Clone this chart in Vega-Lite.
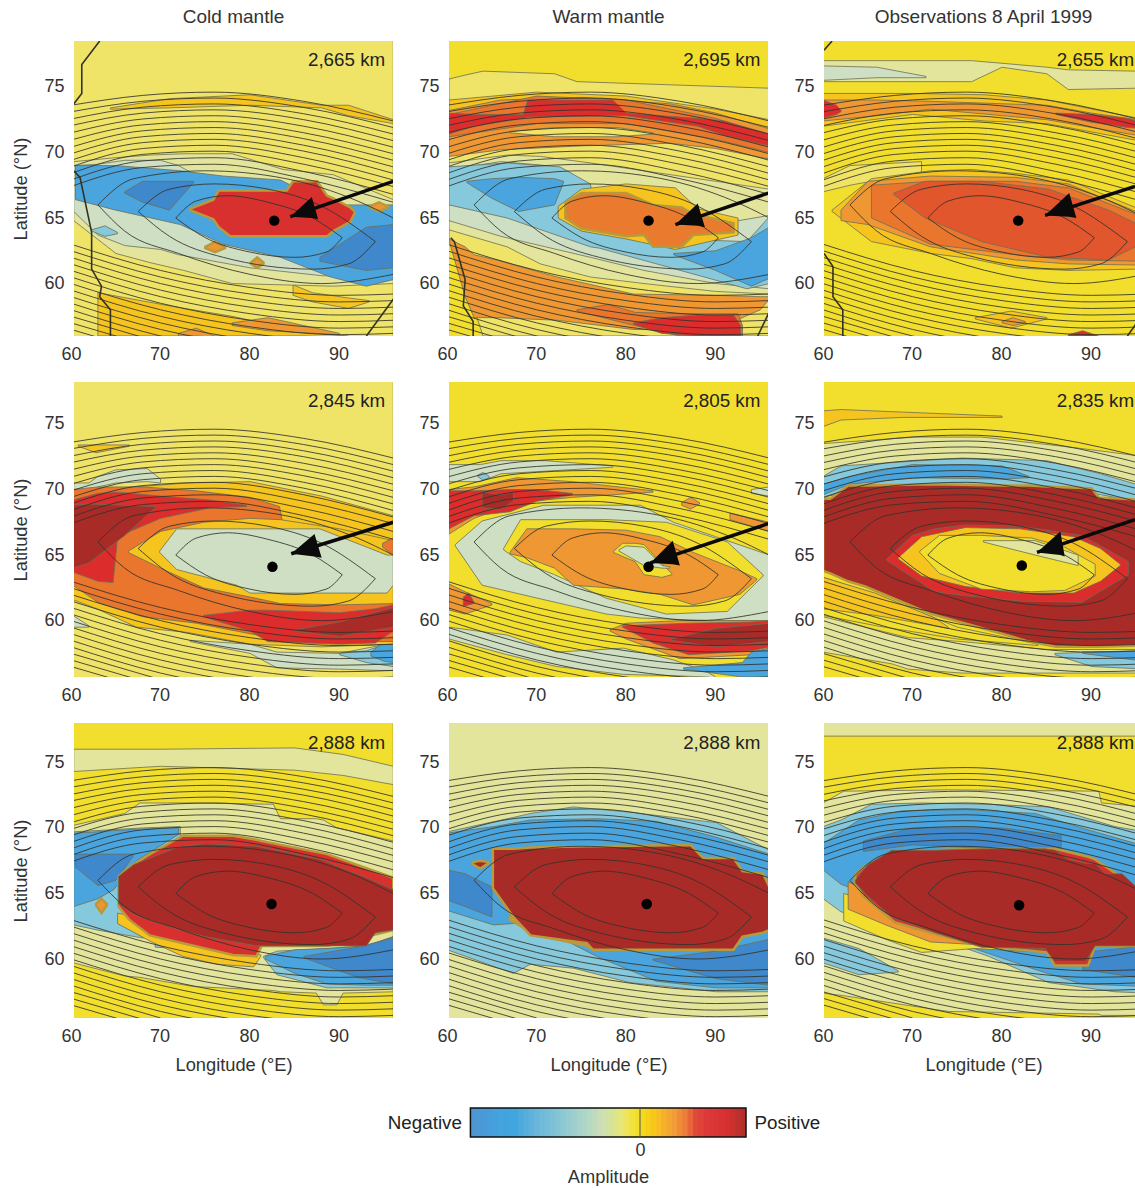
{"$schema":"https://vega.github.io/schema/vega-lite/v6.json","padding":{"left":11,"top":8,"right":0,"bottom":0},
"config":{"font":"Liberation Sans","view":{"stroke":null},"legend":{"disable":true},"axis":{"domain":false,"ticks":false,"grid":false,"labelFontSize":18,"titleFontSize":18.3,"titleFontWeight":"normal","labelColor":"#333","titleColor":"#333","labelBound":false,"labelFlush":false,"labelOverlap":false},"axisX":{"labelPadding":9,"titlePadding":11,"labelExpr":"''+round(datum.value/10)*10"},"axisY":{"labelPadding":10,"titlePadding":13},"title":{"fontSize":19,"fontWeight":"normal","color":"#333","offset":14},"text":{"fontSize":18.8,"color":"#222"}},
"datasets":{
"regions":[
{"r":101,"c":"f","x":60,"y":80,"b":50},{"r":101,"c":"f","x":96,"y":80,"b":50},
{"r":102,"c":"h","x":64.4,"y":73.4,"b":73.3},{"r":102,"c":"h","x":71,"y":74.1,"b":73.4},{"r":102,"c":"h","x":80,"y":74.4,"b":73.6},{"r":102,"c":"h","x":88,"y":73.6,"b":73.4},{"r":102,"c":"h","x":91,"y":73.6,"b":72.8},{"r":102,"c":"h","x":96,"y":72.5,"b":72.2},
{"r":103,"c":"h","x":63,"y":59.3,"b":56},{"r":103,"c":"h","x":71,"y":58.3,"b":56},{"r":103,"c":"h","x":78,"y":57.5,"b":56},{"r":103,"c":"h","x":86,"y":56.3,"b":56},{"r":103,"c":"h","x":91,"y":56,"b":55.9},
{"r":104,"c":"h","x":84.8,"y":59.9,"b":59.1},{"r":104,"c":"h","x":87,"y":59.3,"b":58.6},{"r":104,"c":"h","x":91,"y":58.9,"b":58.1},{"r":104,"c":"h","x":93.3,"y":58.7,"b":58.6},
{"r":105,"c":"i","x":78,"y":57,"b":56.8},{"r":105,"c":"i","x":82,"y":57.4,"b":56.4},{"r":105,"c":"i","x":90,"y":56.2,"b":56.1},
{"r":106,"c":"i","x":72,"y":56.2,"b":56},{"r":106,"c":"i","x":74,"y":56.6,"b":56},{"r":106,"c":"i","x":76,"y":56,"b":55.9},
{"r":107,"c":"e","x":60.3,"y":69.3,"b":64.8},{"r":107,"c":"e","x":65,"y":69.6,"b":62.3},{"r":107,"c":"e","x":68.8,"y":69.8,"b":61.6},{"r":107,"c":"e","x":72.6,"y":69.9,"b":61},{"r":107,"c":"e","x":78,"y":69.9,"b":60},{"r":107,"c":"e","x":83.7,"y":68.7,"b":59.9},{"r":107,"c":"e","x":89.3,"y":68.3,"b":59.8},{"r":107,"c":"e","x":96,"y":66.4,"b":60},
{"r":108,"c":"d","x":60.3,"y":69,"b":65.5},{"r":108,"c":"d","x":63,"y":69.1,"b":63.7},{"r":108,"c":"d","x":66,"y":69.4,"b":62.9},{"r":108,"c":"d","x":70,"y":69.4,"b":62.6},{"r":108,"c":"d","x":72,"y":69,"b":62.2},{"r":108,"c":"d","x":80,"y":66,"b":61.2},{"r":108,"c":"d","x":88,"y":64,"b":60.6},{"r":108,"c":"d","x":96,"y":65,"b":60.4},
{"r":109,"c":"c","x":62.3,"y":64.1,"b":64},{"r":109,"c":"c","x":63.8,"y":64.4,"b":63.6},{"r":109,"c":"c","x":65.2,"y":63.9,"b":63.8},
{"r":110,"c":"b","x":60.5,"y":69,"b":66.4},{"r":110,"c":"b","x":65,"y":69,"b":65.6},{"r":110,"c":"b","x":72.2,"y":68.6,"b":64.5},{"r":110,"c":"b","x":77,"y":68.2,"b":63},{"r":110,"c":"b","x":83.4,"y":67.9,"b":62},{"r":110,"c":"b","x":89,"y":66,"b":60.5},{"r":110,"c":"b","x":93,"y":66,"b":59.8},{"r":110,"c":"b","x":96,"y":66,"b":60.3},
{"r":111,"c":"a","x":66,"y":67,"b":66.9},{"r":111,"c":"a","x":68,"y":67.8,"b":66.2},{"r":111,"c":"a","x":71,"y":67.8,"b":65.6},{"r":111,"c":"a","x":73.7,"y":67.8,"b":67.7},
{"r":112,"c":"a","x":87.8,"y":62,"b":61.7},{"r":112,"c":"a","x":93,"y":64.3,"b":61},{"r":112,"c":"a","x":96,"y":64.5,"b":61.2},
{"r":113,"c":"I","x":75,"y":62.8,"b":62.7},{"r":113,"c":"I","x":76.1,"y":63.2,"b":62.4},{"r":113,"c":"I","x":77.2,"y":62.8,"b":62.7},
{"r":114,"c":"I","x":80.1,"y":61.6,"b":61.5},{"r":114,"c":"I","x":80.8,"y":62,"b":61.2},{"r":114,"c":"I","x":81.5,"y":61.6,"b":61.5},
{"r":115,"c":"I","x":93.4,"y":65.9,"b":65.8},{"r":115,"c":"I","x":94.4,"y":66.2,"b":65.5},{"r":115,"c":"I","x":95.4,"y":65.9,"b":65.8},
{"r":116,"c":"L","x":73.3,"y":65.7,"b":65.6},{"r":116,"c":"L","x":75.9,"y":66.4,"b":64.9},{"r":116,"c":"L","x":76.5,"y":67.1,"b":64.3},{"r":116,"c":"L","x":77.8,"y":67.1,"b":63.6},{"r":116,"c":"L","x":84.1,"y":67.1,"b":63.6},{"r":116,"c":"L","x":84.8,"y":67.8,"b":63.6},{"r":116,"c":"L","x":87.5,"y":67.8,"b":63.6},{"r":116,"c":"L","x":88.6,"y":66.7,"b":63.6},{"r":116,"c":"L","x":89.3,"y":66.5,"b":64},{"r":116,"c":"L","x":91.2,"y":65.8,"b":64.7},{"r":116,"c":"L","x":91.7,"y":65.5,"b":65.4},
{"r":201,"c":"g","x":60,"y":80,"b":50},{"r":201,"c":"g","x":96,"y":80,"b":50},
{"r":202,"c":"f","x":60.2,"y":75.6,"b":63.5},{"r":202,"c":"f","x":62,"y":75.9,"b":60.2},{"r":202,"c":"f","x":64,"y":76.2,"b":56},{"r":202,"c":"f","x":72,"y":76,"b":56},{"r":202,"c":"f","x":74.5,"y":75.4,"b":56},{"r":202,"c":"f","x":96,"y":74.9,"b":56},
{"r":203,"c":"h","x":60.2,"y":74,"b":71},{"r":203,"c":"h","x":70,"y":74.6,"b":71.5},{"r":203,"c":"h","x":80,"y":74.3,"b":71.5},{"r":203,"c":"h","x":90,"y":73.3,"b":70.5},{"r":203,"c":"h","x":96,"y":72.5,"b":69.5},
{"r":204,"c":"i","x":60.2,"y":73.2,"b":69.7},{"r":204,"c":"i","x":66,"y":74,"b":70.2},{"r":204,"c":"i","x":75,"y":74.2,"b":70.5},{"r":204,"c":"i","x":85,"y":73.7,"b":70.7},{"r":204,"c":"i","x":90,"y":73,"b":70.3},{"r":204,"c":"i","x":96,"y":71.8,"b":69.5},
{"r":205,"c":"f","x":67,"y":71.6,"b":71.5},{"r":205,"c":"f","x":72,"y":71.9,"b":71.2},{"r":205,"c":"f","x":79,"y":71.9,"b":71.2},{"r":205,"c":"f","x":83,"y":71.5,"b":71.4},
{"r":206,"c":"j","x":60.2,"y":72.9,"b":71.2},{"r":206,"c":"j","x":70,"y":74.3,"b":72.2},{"r":206,"c":"j","x":80,"y":74,"b":72.2},{"r":206,"c":"j","x":90,"y":72.6,"b":71},{"r":206,"c":"j","x":96,"y":71.2,"b":70},
{"r":207,"c":"l","x":60.2,"y":73,"b":71.4},{"r":207,"c":"l","x":63,"y":72.9,"b":72},{"r":207,"c":"l","x":68.5,"y":72.9,"b":72.6},{"r":207,"c":"l","x":69,"y":74,"b":72.7},{"r":207,"c":"l","x":78.5,"y":74,"b":72.8},{"r":207,"c":"l","x":80,"y":73,"b":72.8},{"r":207,"c":"l","x":88,"y":72.6,"b":72},{"r":207,"c":"l","x":91,"y":72.4,"b":71.3},{"r":207,"c":"l","x":96,"y":71.4,"b":70.5},
{"r":208,"c":"i","x":60.2,"y":63.4,"b":63.3},{"r":208,"c":"i","x":62,"y":62.8,"b":59},{"r":208,"c":"i","x":63,"y":62.2,"b":57.4},{"r":208,"c":"i","x":65.5,"y":61.8,"b":57.4},{"r":208,"c":"i","x":72.3,"y":60.5,"b":57.2},{"r":208,"c":"i","x":80.8,"y":59.2,"b":56.5},{"r":208,"c":"i","x":90,"y":59.1,"b":56.5},{"r":208,"c":"i","x":95,"y":59,"b":58},{"r":208,"c":"i","x":96,"y":59,"b":58.8},
{"r":209,"c":"j","x":74.5,"y":58,"b":57.9},{"r":209,"c":"j","x":78,"y":58.4,"b":57.3},{"r":209,"c":"j","x":81,"y":57.8,"b":56.8},{"r":209,"c":"j","x":86,"y":57.7,"b":56},{"r":209,"c":"j","x":92.5,"y":57.7,"b":56},{"r":209,"c":"j","x":93,"y":56.8,"b":56},
{"r":210,"c":"l","x":80.8,"y":57,"b":56.9},{"r":210,"c":"l","x":84,"y":57.4,"b":56.2},{"r":210,"c":"l","x":88,"y":57.6,"b":56},{"r":210,"c":"l","x":92,"y":57.6,"b":56},{"r":210,"c":"l","x":92.8,"y":56.8,"b":56},
{"r":211,"c":"e","x":60.2,"y":69.2,"b":64.1},{"r":211,"c":"e","x":66.7,"y":69.8,"b":62.8},{"r":211,"c":"e","x":70.4,"y":69.7,"b":61.5},{"r":211,"c":"e","x":76,"y":69.2,"b":60.5},{"r":211,"c":"e","x":82,"y":68.6,"b":60},{"r":211,"c":"e","x":90,"y":67.8,"b":59.4},{"r":211,"c":"e","x":96,"y":67.2,"b":59.2},
{"r":212,"c":"d","x":60.2,"y":68.7,"b":64.8},{"r":212,"c":"d","x":66,"y":69.3,"b":63.6},{"r":212,"c":"d","x":71,"y":69,"b":62.8},{"r":212,"c":"d","x":76,"y":66,"b":62},{"r":212,"c":"d","x":82,"y":64.5,"b":61},{"r":212,"c":"d","x":90,"y":64.5,"b":60},{"r":212,"c":"d","x":96,"y":65.2,"b":59.6},
{"r":213,"c":"c","x":60.2,"y":68.9,"b":66},{"r":213,"c":"c","x":66.7,"y":69.2,"b":65},{"r":213,"c":"c","x":72.6,"y":68.9,"b":63.6},{"r":213,"c":"c","x":76,"y":67.6,"b":62.8},{"r":213,"c":"c","x":77,"y":64,"b":62.7},{"r":213,"c":"c","x":85,"y":63.4,"b":61.2},{"r":213,"c":"c","x":93.5,"y":63.2,"b":59.6},{"r":213,"c":"c","x":96,"y":65.1,"b":60},
{"r":214,"c":"b","x":62.2,"y":67.8,"b":67.7},{"r":214,"c":"b","x":65,"y":68,"b":66.5},{"r":214,"c":"b","x":68,"y":68.1,"b":65.5},{"r":214,"c":"b","x":72,"y":68,"b":66},{"r":214,"c":"b","x":73,"y":67.8,"b":67.7},
{"r":215,"c":"b","x":85.3,"y":62.3,"b":62.2},{"r":215,"c":"b","x":90,"y":62.5,"b":61},{"r":215,"c":"b","x":94,"y":63.5,"b":59.8},{"r":215,"c":"b","x":96,"y":64.3,"b":60.4},
{"r":216,"c":"h","x":72.4,"y":65.9,"b":65},{"r":216,"c":"h","x":75,"y":67.2,"b":64},{"r":216,"c":"h","x":80,"y":67.6,"b":63.4},{"r":216,"c":"h","x":85.5,"y":67.3,"b":62.6},{"r":216,"c":"h","x":88,"y":65.7,"b":63},{"r":216,"c":"h","x":92.5,"y":65,"b":63.7},
{"r":217,"c":"J","x":73.2,"y":66.2,"b":65},{"r":217,"c":"J","x":75,"y":66.9,"b":64.2},{"r":217,"c":"J","x":80,"y":66.9,"b":63.6},{"r":217,"c":"J","x":82,"y":66.3,"b":63.7},{"r":217,"c":"J","x":83,"y":66,"b":62.8},{"r":217,"c":"J","x":86.2,"y":65.8,"b":62.8},{"r":217,"c":"J","x":87.5,"y":65.3,"b":63.7},{"r":217,"c":"J","x":92,"y":64.6,"b":63.9},
{"r":301,"c":"g","x":60,"y":80,"b":50},{"r":301,"c":"g","x":96,"y":80,"b":50},
{"r":302,"c":"e","x":60,"y":77,"b":75.4},{"r":302,"c":"e","x":76.6,"y":77,"b":75.4},{"r":302,"c":"e","x":80,"y":76.8,"b":76.5},{"r":302,"c":"e","x":85,"y":76.5,"b":76},{"r":302,"c":"e","x":87.4,"y":76.3,"b":74.8},{"r":302,"c":"e","x":95,"y":76.2,"b":74.9},
{"r":303,"c":"d","x":60,"y":76.6,"b":75.5},{"r":303,"c":"d","x":66,"y":76.5,"b":75.7},{"r":303,"c":"d","x":71.5,"y":75.8,"b":75.7},
{"r":305,"c":"h","x":60,"y":74.5,"b":72},{"r":305,"c":"h","x":70,"y":74.5,"b":72.9},{"r":305,"c":"h","x":78,"y":74.4,"b":72.4},{"r":305,"c":"h","x":85,"y":74,"b":72.2},{"r":305,"c":"h","x":96,"y":72.5,"b":70.8},
{"r":306,"c":"i","x":60,"y":74,"b":72.4},{"r":306,"c":"i","x":66,"y":74,"b":72.8},{"r":306,"c":"i","x":72,"y":73.9,"b":73.3},{"r":306,"c":"i","x":85,"y":73.6,"b":72.5},{"r":306,"c":"i","x":90,"y":73,"b":71.9},{"r":306,"c":"i","x":96,"y":72.4,"b":71.2},
{"r":307,"c":"l","x":60,"y":74,"b":72.6},{"r":307,"c":"l","x":61.5,"y":73.6,"b":72.9},{"r":307,"c":"l","x":62,"y":73.2,"b":73.1},
{"r":308,"c":"l","x":86,"y":73,"b":72.9},{"r":308,"c":"l","x":90,"y":72.9,"b":72.3},{"r":308,"c":"l","x":94,"y":72.6,"b":71.9},{"r":308,"c":"l","x":96,"y":72.2,"b":71.8},
{"r":309,"c":"f","x":60,"y":68,"b":67},{"r":309,"c":"f","x":63,"y":69,"b":67.5},{"r":309,"c":"f","x":71,"y":69.3,"b":68.5},
{"r":310,"c":"h","x":61,"y":65.6,"b":65.5},{"r":310,"c":"h","x":65.4,"y":68,"b":63.2},{"r":310,"c":"h","x":72,"y":68.6,"b":62.3},{"r":310,"c":"h","x":76.6,"y":68.7,"b":61.9},{"r":310,"c":"h","x":81.5,"y":68.4,"b":61.2},{"r":310,"c":"h","x":87.4,"y":67.9,"b":61},{"r":310,"c":"h","x":94.9,"y":65.8,"b":61.1},{"r":310,"c":"h","x":96,"y":65.2,"b":61.2},
{"r":311,"c":"i","x":62,"y":65.6,"b":64.8},{"r":311,"c":"i","x":65,"y":67.8,"b":64.5},{"r":311,"c":"i","x":72,"y":68.2,"b":62.8},{"r":311,"c":"i","x":81.5,"y":68.1,"b":61.8},{"r":311,"c":"i","x":87.4,"y":67.6,"b":61.5},{"r":311,"c":"i","x":96,"y":65.2,"b":61.4},
{"r":312,"c":"j","x":65.4,"y":67.5,"b":65},{"r":312,"c":"j","x":72,"y":67.8,"b":63},{"r":312,"c":"j","x":81.5,"y":67.8,"b":62.2},{"r":312,"c":"j","x":87.4,"y":67.3,"b":61.8},{"r":312,"c":"j","x":96,"y":65,"b":61.7},
{"r":313,"c":"k","x":67.9,"y":66.9,"b":66.8},{"r":313,"c":"k","x":71.4,"y":67.8,"b":65},{"r":313,"c":"k","x":77.7,"y":67.8,"b":63.2},{"r":313,"c":"k","x":85.2,"y":67.2,"b":62},{"r":313,"c":"k","x":91.9,"y":65.6,"b":61.8},{"r":313,"c":"k","x":94.9,"y":64.6,"b":62.8},{"r":313,"c":"k","x":96,"y":64,"b":63},
{"r":314,"c":"h","x":77,"y":57.4,"b":57.3},{"r":314,"c":"h","x":81,"y":57.9,"b":56.6},{"r":314,"c":"h","x":85,"y":57.4,"b":57.3},
{"r":315,"c":"i","x":80,"y":57.1,"b":57},{"r":315,"c":"i","x":81.2,"y":57.4,"b":56.8},{"r":315,"c":"i","x":82.6,"y":57.1,"b":57},
{"r":316,"c":"l","x":87.4,"y":56.1,"b":56},{"r":316,"c":"l","x":89,"y":56.4,"b":56},{"r":316,"c":"l","x":90.8,"y":56,"b":55.9},
{"r":401,"c":"f","x":60,"y":80,"b":50},{"r":401,"c":"f","x":96,"y":80,"b":50},
{"r":402,"c":"h","x":60.8,"y":73.4,"b":73.3},{"r":402,"c":"h","x":62.8,"y":73.4,"b":72.8},{"r":402,"c":"h","x":66.5,"y":73.4,"b":73.3},
{"r":403,"c":"d","x":60.3,"y":70.5,"b":69.5},{"r":403,"c":"d","x":62,"y":70.5,"b":69.7},{"r":403,"c":"d","x":63,"y":71,"b":70.2},{"r":403,"c":"d","x":65,"y":71.5,"b":70.5},{"r":403,"c":"d","x":68.5,"y":71.6,"b":70.6},{"r":403,"c":"d","x":70,"y":70.8,"b":70.5},
{"r":413,"c":"d","x":60.2,"y":60.4,"b":59.5},{"r":413,"c":"d","x":62,"y":59.6,"b":59.5},
{"r":410,"c":"d","x":73.3,"y":58.5,"b":58.4},{"r":410,"c":"d","x":80,"y":58.2,"b":57.5},{"r":410,"c":"d","x":83,"y":57.6,"b":56.4},{"r":410,"c":"d","x":90,"y":57.5,"b":56.3},{"r":410,"c":"d","x":94.5,"y":58.1,"b":56.2},{"r":410,"c":"d","x":96,"y":58.5,"b":56.2},
{"r":411,"c":"c","x":90,"y":57.5,"b":57.4},{"r":411,"c":"c","x":93,"y":57.7,"b":56.8},{"r":411,"c":"c","x":96,"y":58.4,"b":56.5},
{"r":412,"c":"b","x":93.5,"y":57.6,"b":57.3},{"r":412,"c":"b","x":95,"y":58.4,"b":56.9},{"r":412,"c":"b","x":96,"y":58.6,"b":56.8},
{"r":404,"c":"h","x":60.2,"y":70,"b":61.6},{"r":404,"c":"h","x":62.9,"y":70,"b":60.9},{"r":404,"c":"h","x":67.3,"y":70.2,"b":59.5},{"r":404,"c":"h","x":73,"y":70.5,"b":59.1},{"r":404,"c":"h","x":80,"y":70.6,"b":58.2},{"r":404,"c":"h","x":88,"y":69.5,"b":58},{"r":404,"c":"h","x":96,"y":68,"b":58.2},
{"r":405,"c":"j","x":60.2,"y":70,"b":62.7},{"r":405,"c":"j","x":63,"y":70.2,"b":61.4},{"r":405,"c":"j","x":68,"y":70.2,"b":60.3},{"r":405,"c":"j","x":74,"y":69.9,"b":59.8},{"r":405,"c":"j","x":80,"y":69.4,"b":59},{"r":405,"c":"j","x":83.3,"y":68.7,"b":58.6},{"r":405,"c":"j","x":84,"y":66,"b":58.4},{"r":405,"c":"j","x":96,"y":61.9,"b":58.4},
{"r":406,"c":"l","x":60.2,"y":69.2,"b":63.7},{"r":406,"c":"l","x":63,"y":69.7,"b":63},{"r":406,"c":"l","x":64.7,"y":69.8,"b":62.9},{"r":406,"c":"l","x":65.2,"y":69.8,"b":66.4},{"r":406,"c":"l","x":70,"y":69.5,"b":67.8},{"r":406,"c":"l","x":75.5,"y":69.2,"b":68.6},{"r":406,"c":"l","x":79.6,"y":68.8,"b":68.7},
{"r":407,"c":"m","x":60.2,"y":68.8,"b":64},{"r":407,"c":"m","x":62,"y":68.9,"b":64.4},{"r":407,"c":"m","x":66,"y":68.8,"b":66.5},{"r":407,"c":"m","x":69.4,"y":68.7,"b":68.6},
{"r":408,"c":"l","x":74.8,"y":60.4,"b":60.3},{"r":408,"c":"l","x":80,"y":60.8,"b":59.2},{"r":408,"c":"l","x":82,"y":60.8,"b":58.4},{"r":408,"c":"l","x":90,"y":60.6,"b":58.2},{"r":408,"c":"l","x":94,"y":60.9,"b":58.3},{"r":408,"c":"l","x":96,"y":61.2,"b":59.2},
{"r":409,"c":"m","x":85,"y":59.3,"b":59.2},{"r":409,"c":"m","x":90,"y":59.9,"b":58.8},{"r":409,"c":"m","x":96,"y":61,"b":59.5},
{"r":414,"c":"h","x":66.4,"y":65.3,"b":65.2},{"r":414,"c":"h","x":70,"y":66.8,"b":64},{"r":414,"c":"h","x":74.8,"y":67.5,"b":62.5},{"r":414,"c":"h","x":80,"y":67.8,"b":61.8},{"r":414,"c":"h","x":83.4,"y":67.7,"b":61.3},{"r":414,"c":"h","x":90,"y":67,"b":61.2},{"r":414,"c":"h","x":96,"y":66.1,"b":61.3},
{"r":415,"c":"j","x":94.8,"y":65.9,"b":65.6},{"r":415,"c":"j","x":96,"y":66.3,"b":65},
{"r":416,"c":"d","x":69.9,"y":65.3,"b":65.2},{"r":416,"c":"d","x":71.8,"y":67,"b":63.9},{"r":416,"c":"d","x":78.5,"y":67,"b":62.7},{"r":416,"c":"d","x":80,"y":67,"b":62.1},{"r":416,"c":"d","x":87.8,"y":67,"b":62.1},{"r":416,"c":"d","x":92.3,"y":65.8,"b":62.1},{"r":416,"c":"d","x":95.3,"y":65,"b":62.1},{"r":416,"c":"d","x":96,"y":65,"b":62.7},
{"r":501,"c":"g","x":60,"y":80,"b":50},{"r":501,"c":"g","x":96,"y":80,"b":50},
{"r":502,"c":"d","x":60.2,"y":71.9,"b":70.6},{"r":502,"c":"d","x":63.7,"y":71.9,"b":70.6},{"r":502,"c":"d","x":66,"y":72.2,"b":71.2},{"r":502,"c":"d","x":71,"y":72.2,"b":71.4},{"r":502,"c":"d","x":78.5,"y":71.8,"b":71.7},
{"r":521,"c":"c","x":63.4,"y":71.1,"b":71},{"r":521,"c":"c","x":64,"y":71.3,"b":70.7},{"r":521,"c":"c","x":64.7,"y":71,"b":70.9},
{"r":503,"c":"i","x":60.2,"y":70,"b":66.6},{"r":503,"c":"i","x":63,"y":70.2,"b":67.8},{"r":503,"c":"i","x":67.8,"y":70.9,"b":69},{"r":503,"c":"i","x":74,"y":70.6,"b":69.4},{"r":503,"c":"i","x":83,"y":69.9,"b":69.8},
{"r":504,"c":"l","x":60.2,"y":69.9,"b":67},{"r":504,"c":"l","x":63,"y":69.9,"b":68},{"r":504,"c":"l","x":67,"y":70,"b":68.3},{"r":504,"c":"l","x":70,"y":70,"b":69.1},{"r":504,"c":"l","x":74,"y":69.7,"b":69.6},
{"r":505,"c":"m","x":63.9,"y":69.8,"b":68.6},{"r":505,"c":"m","x":66,"y":69.6,"b":68.5},{"r":505,"c":"m","x":67.4,"y":69.8,"b":69.1},
{"r":506,"c":"d","x":60.9,"y":65.8,"b":65.7},{"r":506,"c":"d","x":63.9,"y":67.6,"b":62.7},{"r":506,"c":"d","x":70.8,"y":68.8,"b":61.6},{"r":506,"c":"d","x":77.8,"y":68.8,"b":60.5},{"r":506,"c":"d","x":81.6,"y":68.8,"b":60.2},{"r":506,"c":"d","x":85.3,"y":67.5,"b":60.1},{"r":506,"c":"d","x":90,"y":66.4,"b":60},{"r":506,"c":"d","x":96,"y":65,"b":60},
{"r":507,"c":"g","x":66.3,"y":65.5,"b":65.4},{"r":507,"c":"g","x":68.2,"y":67.7,"b":64.5},{"r":507,"c":"g","x":72,"y":67.7,"b":63.5},{"r":507,"c":"g","x":77.8,"y":67.7,"b":61.7},{"r":507,"c":"g","x":84.5,"y":67.5,"b":60.5},{"r":507,"c":"g","x":91.3,"y":66,"b":60.7},{"r":507,"c":"g","x":95.3,"y":63.5,"b":63.4},
{"r":508,"c":"i","x":67,"y":65.2,"b":65.1},{"r":508,"c":"i","x":68.9,"y":67,"b":64.8},{"r":508,"c":"i","x":72,"y":67,"b":64},{"r":508,"c":"i","x":74.1,"y":67,"b":62.7},{"r":508,"c":"i","x":80,"y":66.9,"b":62.4},{"r":508,"c":"i","x":83.8,"y":66.4,"b":62},{"r":508,"c":"i","x":87.5,"y":65.2,"b":61.2},{"r":508,"c":"i","x":92.7,"y":63.8,"b":62},{"r":508,"c":"i","x":94.6,"y":63.2,"b":63.1},
{"r":509,"c":"g","x":78.6,"y":65.3,"b":65.2},{"r":509,"c":"g","x":79.6,"y":65.9,"b":64.9},{"r":509,"c":"g","x":81,"y":65.9,"b":64.5},{"r":509,"c":"g","x":82,"y":65.8,"b":63.5},{"r":509,"c":"g","x":84,"y":64.3,"b":63.3},{"r":509,"c":"g","x":85.1,"y":63.6,"b":63.5},
{"r":510,"c":"d","x":79.2,"y":65.4,"b":65.3},{"r":510,"c":"d","x":80,"y":65.7,"b":65},{"r":510,"c":"d","x":82,"y":65.6,"b":64.2},{"r":510,"c":"d","x":84,"y":64.2,"b":64},{"r":510,"c":"d","x":84.9,"y":64.1,"b":64},
{"r":511,"c":"i","x":60.2,"y":62.8,"b":60.8},{"r":511,"c":"i","x":62,"y":62.2,"b":60.5},{"r":511,"c":"i","x":65,"y":61.3,"b":61.2},
{"r":512,"c":"l","x":61.8,"y":61.8,"b":61.1},{"r":512,"c":"l","x":62.4,"y":62.1,"b":61.2},{"r":512,"c":"l","x":63,"y":61.4,"b":61.3},
{"r":513,"c":"i","x":91.6,"y":68.2,"b":67.7},{"r":513,"c":"i","x":96,"y":67.5,"b":66.8},
{"r":514,"c":"i","x":86.2,"y":69,"b":68.8},{"r":514,"c":"i","x":87.2,"y":69.4,"b":68.5},{"r":514,"c":"i","x":88.2,"y":69,"b":68.9},
{"r":515,"c":"d","x":94,"y":70,"b":69.7},{"r":515,"c":"d","x":96,"y":70.2,"b":69.5},
{"r":516,"c":"d","x":60.2,"y":59.5,"b":58.6},{"r":516,"c":"d","x":66.7,"y":58.9,"b":57.4},{"r":516,"c":"d","x":72.2,"y":57.6,"b":56.5},{"r":516,"c":"d","x":79.7,"y":57.9,"b":55.9},{"r":516,"c":"d","x":85.3,"y":57,"b":55.8},{"r":516,"c":"d","x":89,"y":56.1,"b":55.7},{"r":516,"c":"d","x":90,"y":55.7,"b":55.6},
{"r":517,"c":"i","x":78.2,"y":59.3,"b":59.2},{"r":517,"c":"i","x":80,"y":59.8,"b":58.6},{"r":517,"c":"i","x":86,"y":60,"b":57.1},{"r":517,"c":"i","x":94.2,"y":60,"b":57.4},{"r":517,"c":"i","x":96,"y":60,"b":57.8},
{"r":518,"c":"l","x":79.6,"y":59.6,"b":59.5},{"r":518,"c":"l","x":83,"y":59.7,"b":58.3},{"r":518,"c":"l","x":87,"y":59.8,"b":57.4},{"r":518,"c":"l","x":94,"y":59.9,"b":57.7},{"r":518,"c":"l","x":96,"y":60,"b":58},
{"r":519,"c":"m","x":85,"y":58.6,"b":58.5},{"r":519,"c":"m","x":90,"y":59.4,"b":58},{"r":519,"c":"m","x":96,"y":59.8,"b":58.4},
{"r":520,"c":"b","x":86.4,"y":56.4,"b":56.3},{"r":520,"c":"b","x":93,"y":56.8,"b":55.7},{"r":520,"c":"b","x":94,"y":57.6,"b":55.7},{"r":520,"c":"b","x":96,"y":57.9,"b":55.7},
{"r":601,"c":"g","x":60,"y":80,"b":50},{"r":601,"c":"g","x":96,"y":80,"b":50},
{"r":602,"c":"h","x":60,"y":76,"b":74.8},{"r":602,"c":"h","x":62,"y":76.1,"b":75.3},{"r":602,"c":"h","x":69,"y":75.9,"b":75.5},{"r":602,"c":"h","x":80,"y":75.6,"b":75.5},
{"r":603,"c":"e","x":60,"y":73.5,"b":69.5},{"r":603,"c":"e","x":70.3,"y":74,"b":70},{"r":603,"c":"e","x":77.7,"y":74,"b":70},{"r":603,"c":"e","x":88,"y":73.2,"b":69.5},{"r":603,"c":"e","x":96,"y":72.5,"b":68.6},
{"r":604,"c":"c","x":60,"y":71,"b":69.3},{"r":604,"c":"c","x":62,"y":71.8,"b":69.9},{"r":604,"c":"c","x":75.5,"y":72.4,"b":70.1},{"r":604,"c":"c","x":85,"y":72.2,"b":70},{"r":604,"c":"c","x":91,"y":71.2,"b":69.6},{"r":604,"c":"c","x":96,"y":70.2,"b":69},
{"r":605,"c":"b","x":60,"y":70.4,"b":69.6},{"r":605,"c":"b","x":63,"y":71,"b":70.4},{"r":605,"c":"b","x":70,"y":71.9,"b":70.9},{"r":605,"c":"b","x":80,"y":71.8,"b":70.8},{"r":605,"c":"b","x":83,"y":71,"b":70.9},
{"r":613,"c":"e","x":60,"y":60.3,"b":57.6},{"r":613,"c":"e","x":67.7,"y":59,"b":56.7},{"r":613,"c":"e","x":69.5,"y":58.7,"b":56.3},{"r":613,"c":"e","x":75.5,"y":58.4,"b":56},{"r":613,"c":"e","x":85,"y":57.8,"b":56},{"r":613,"c":"e","x":96,"y":57.8,"b":56},
{"r":612,"c":"g","x":60,"y":63.3,"b":60.4},{"r":612,"c":"g","x":66,"y":62,"b":59.6},{"r":612,"c":"g","x":75,"y":59.5,"b":58.6},{"r":612,"c":"g","x":84,"y":58.2,"b":58.1},
{"r":614,"c":"h","x":60,"y":63.3,"b":60.9},{"r":614,"c":"h","x":65.8,"y":62.1,"b":60.4},{"r":614,"c":"h","x":72.5,"y":60.2,"b":59.6},{"r":614,"c":"h","x":74,"y":59.5,"b":59.4},
{"r":615,"c":"c","x":85.9,"y":57.5,"b":57.4},{"r":615,"c":"c","x":90,"y":57.6,"b":56.5},{"r":615,"c":"c","x":96,"y":57.7,"b":56.3},
{"r":616,"c":"b","x":89,"y":57.6,"b":57.5},{"r":616,"c":"b","x":96,"y":57.7,"b":56.9},
{"r":606,"c":"M","x":60,"y":69.3,"b":63.8},{"r":606,"c":"M","x":60.8,"y":69.3,"b":63.6},{"r":606,"c":"M","x":62.8,"y":70.3,"b":63},{"r":606,"c":"M","x":64.7,"y":70.3,"b":62.6},{"r":606,"c":"M","x":72.1,"y":70.4,"b":60.5},{"r":606,"c":"M","x":80,"y":70.3,"b":59},{"r":606,"c":"M","x":83,"y":70.3,"b":58.4},{"r":606,"c":"M","x":86,"y":70.2,"b":58},{"r":606,"c":"M","x":90,"y":70.1,"b":58},{"r":606,"c":"M","x":90.8,"y":69.4,"b":58},{"r":606,"c":"M","x":96,"y":69.2,"b":58.1},
{"r":607,"c":"l","x":67.1,"y":64.7,"b":64.6},{"r":607,"c":"l","x":70,"y":66.5,"b":63.3},{"r":607,"c":"l","x":72.5,"y":67,"b":62.2},{"r":607,"c":"l","x":75.9,"y":67.3,"b":61.9},{"r":607,"c":"l","x":82,"y":67.2,"b":61.5},{"r":607,"c":"l","x":88.9,"y":66.5,"b":61.4},{"r":607,"c":"l","x":94.1,"y":64.5,"b":63.5},
{"r":608,"c":"h","x":68.4,"y":64.8,"b":64.7},{"r":608,"c":"h","x":71,"y":66.4,"b":63.4},{"r":608,"c":"h","x":75.9,"y":67.1,"b":62.6},{"r":608,"c":"h","x":82,"y":67,"b":62.1},{"r":608,"c":"h","x":88,"y":66.4,"b":62.1},{"r":608,"c":"h","x":91,"y":65.5,"b":63},{"r":608,"c":"h","x":93.2,"y":64.3,"b":64.2},
{"r":609,"c":"g","x":70.8,"y":65.3,"b":65.2},{"r":609,"c":"g","x":73,"y":66.5,"b":63.6},{"r":609,"c":"g","x":77.7,"y":66.5,"b":62.4},{"r":609,"c":"g","x":83.3,"y":66.3,"b":62.2},{"r":609,"c":"g","x":87,"y":65.6,"b":62.3},{"r":609,"c":"g","x":90.4,"y":64.3,"b":63.4},
{"r":610,"c":"e","x":77.9,"y":66.1,"b":66},{"r":610,"c":"e","x":83.7,"y":66.1,"b":65},{"r":610,"c":"e","x":88.5,"y":65,"b":64.2},
{"r":701,"c":"g","x":60,"y":80,"b":50},{"r":701,"c":"g","x":96,"y":80,"b":50},
{"r":702,"c":"e","x":60.3,"y":76,"b":74.3},{"r":702,"c":"e","x":70,"y":76,"b":74.7},{"r":702,"c":"e","x":85,"y":76.1,"b":74.4},{"r":702,"c":"e","x":90.4,"y":75.6,"b":74},{"r":702,"c":"e","x":96,"y":74.7,"b":73.3},
{"r":704,"c":"e","x":60.3,"y":70.2,"b":59.7},{"r":704,"c":"e","x":66,"y":71.1,"b":58.7},{"r":704,"c":"e","x":67.7,"y":71.9,"b":58.6},{"r":704,"c":"e","x":73.7,"y":71.9,"b":57.9},{"r":704,"c":"e","x":82.6,"y":71.8,"b":57.6},{"r":704,"c":"e","x":83.4,"y":70.7,"b":57.5},{"r":704,"c":"e","x":87.4,"y":70.7,"b":57.4},{"r":704,"c":"e","x":88.2,"y":70.6,"b":56.5},{"r":704,"c":"e","x":89.7,"y":70,"b":56.5},{"r":704,"c":"e","x":90.4,"y":69.9,"b":57.4},{"r":704,"c":"e","x":96,"y":69,"b":57.5},
{"r":705,"c":"c","x":60.3,"y":69.7,"b":62.6},{"r":705,"c":"c","x":63,"y":69.8,"b":62.2},{"r":705,"c":"c","x":68,"y":70,"b":61.6},{"r":705,"c":"c","x":72.2,"y":70.1,"b":62},
{"r":706,"c":"b","x":60.3,"y":69.6,"b":64},{"r":706,"c":"b","x":63,"y":69.7,"b":64.6},{"r":706,"c":"b","x":64.8,"y":69.8,"b":65.3},{"r":706,"c":"b","x":67.3,"y":69.9,"b":67.5},{"r":706,"c":"b","x":72,"y":70,"b":69.5},
{"r":707,"c":"a","x":60.5,"y":68,"b":67},{"r":707,"c":"a","x":63,"y":68,"b":65.6},{"r":707,"c":"a","x":65,"y":68,"b":66},{"r":707,"c":"a","x":67,"y":68,"b":67.9},
{"r":708,"c":"I","x":62.8,"y":64.2,"b":64.1},{"r":708,"c":"I","x":63.4,"y":64.6,"b":63.5},{"r":708,"c":"I","x":64,"y":64.2,"b":64.1},
{"r":709,"c":"c","x":69.4,"y":61.2,"b":60.9},{"r":709,"c":"c","x":72,"y":61.3,"b":60.8},
{"r":710,"c":"c","x":81.5,"y":60.2,"b":60.1},{"r":710,"c":"c","x":83,"y":60.6,"b":58.8},{"r":710,"c":"c","x":88.6,"y":60.8,"b":57.8},{"r":710,"c":"c","x":93,"y":61,"b":57.8},{"r":710,"c":"c","x":96,"y":61.7,"b":57.8},
{"r":711,"c":"b","x":81.7,"y":60.2,"b":60},{"r":711,"c":"b","x":85,"y":60.7,"b":58.9},{"r":711,"c":"b","x":88.6,"y":60.8,"b":58.1},{"r":711,"c":"b","x":93,"y":61,"b":58},{"r":711,"c":"b","x":96,"y":61.7,"b":58},
{"r":712,"c":"a","x":86,"y":60.2,"b":60.1},{"r":712,"c":"a","x":92,"y":60.9,"b":58.6},{"r":712,"c":"a","x":96,"y":61.6,"b":58.1},
{"r":713,"c":"h","x":65.2,"y":63.5,"b":62.7},{"r":713,"c":"h","x":69,"y":63,"b":61.3},{"r":713,"c":"h","x":72.5,"y":62,"b":60.2},{"r":713,"c":"h","x":76.3,"y":61,"b":59.6},{"r":713,"c":"h","x":80.4,"y":60.5,"b":59.4},{"r":713,"c":"h","x":81.2,"y":60.3,"b":60.2},
{"r":714,"c":"L","x":65.3,"y":66.3,"b":64},{"r":714,"c":"L","x":66.5,"y":67,"b":63},{"r":714,"c":"L","x":68.8,"y":68,"b":61.8},{"r":714,"c":"L","x":72.5,"y":69.4,"b":61.2},{"r":714,"c":"L","x":78.1,"y":69.4,"b":60.3},{"r":714,"c":"L","x":80.7,"y":69.1,"b":60.2},{"r":714,"c":"L","x":81.3,"y":69,"b":61},{"r":714,"c":"L","x":88.6,"y":68,"b":61},{"r":714,"c":"L","x":96,"y":66.2,"b":62.2},
{"r":715,"c":"m","x":65.3,"y":66.3,"b":64.2},{"r":715,"c":"m","x":67,"y":67.2,"b":63.4},{"r":715,"c":"m","x":71.8,"y":68.5,"b":62.3},{"r":715,"c":"m","x":75,"y":68.8,"b":61.7},{"r":715,"c":"m","x":80.7,"y":68.6,"b":61},{"r":715,"c":"m","x":87.8,"y":67.6,"b":61},{"r":715,"c":"m","x":93,"y":66.2,"b":61},{"r":715,"c":"m","x":94,"y":65.9,"b":62},{"r":715,"c":"m","x":96,"y":65.3,"b":62.2},
{"r":801,"c":"e","x":60,"y":80,"b":50},{"r":801,"c":"e","x":96,"y":80,"b":50},
{"r":802,"c":"c","x":60,"y":69.7,"b":60.7},{"r":802,"c":"c","x":67.4,"y":70.8,"b":58.9},{"r":802,"c":"c","x":69.3,"y":71.1,"b":59.6},{"r":802,"c":"c","x":74.1,"y":71.6,"b":59.3},{"r":802,"c":"c","x":80.4,"y":71.2,"b":58.2},{"r":802,"c":"c","x":90.1,"y":70.4,"b":57.5},{"r":802,"c":"c","x":96,"y":68.3,"b":57.5},
{"r":803,"c":"b","x":60,"y":69.6,"b":63.7},{"r":803,"c":"b","x":65.2,"y":70.1,"b":62.6},{"r":803,"c":"b","x":69.3,"y":70.6,"b":62.8},{"r":803,"c":"b","x":76.7,"y":70.7,"b":60.2},{"r":803,"c":"b","x":83.4,"y":70.5,"b":58.3},{"r":803,"c":"b","x":90,"y":69.3,"b":57.8},{"r":803,"c":"b","x":96,"y":68,"b":57.8},
{"r":804,"c":"a","x":60,"y":66.8,"b":64.5},{"r":804,"c":"a","x":62,"y":66.5,"b":64},{"r":804,"c":"a","x":65,"y":65.5,"b":63.2},
{"r":808,"c":"a","x":83,"y":60,"b":59.9},{"r":808,"c":"a","x":90,"y":60.6,"b":58.5},{"r":808,"c":"a","x":96,"y":61.5,"b":58},
{"r":807,"c":"I","x":67,"y":63.2,"b":63},{"r":807,"c":"I","x":70,"y":63,"b":61.8},{"r":807,"c":"I","x":75.6,"y":61.5,"b":61},{"r":807,"c":"I","x":76.3,"y":61,"b":60.7},
{"r":805,"c":"M","x":65.1,"y":68.4,"b":65.4},{"r":805,"c":"M","x":67.4,"y":68.4,"b":63.2},{"r":805,"c":"M","x":69.3,"y":68.5,"b":61.8},{"r":805,"c":"M","x":75.6,"y":68.6,"b":61.2},{"r":805,"c":"M","x":76.3,"y":68.6,"b":60.7},{"r":805,"c":"M","x":87.2,"y":68.7,"b":60.7},{"r":805,"c":"M","x":88.6,"y":67.7,"b":60.7},{"r":805,"c":"M","x":92,"y":67.7,"b":60.7},{"r":805,"c":"M","x":93,"y":66.7,"b":61.7},{"r":805,"c":"M","x":95.3,"y":66.5,"b":62},{"r":805,"c":"M","x":96,"y":65.5,"b":62.2},
{"r":806,"c":"M","x":62.9,"y":67.4,"b":67.2},{"r":806,"c":"M","x":63.7,"y":67.5,"b":66.9},{"r":806,"c":"M","x":64.6,"y":67.4,"b":67.3},
{"r":901,"c":"g","x":60,"y":80,"b":50},{"r":901,"c":"g","x":96,"y":80,"b":50},
{"r":902,"c":"e","x":60,"y":78.5,"b":77},{"r":902,"c":"e","x":96,"y":78.5,"b":77},
{"r":904,"c":"e","x":60,"y":71.9,"b":57.4},{"r":904,"c":"e","x":62.3,"y":72.8,"b":57.2},{"r":904,"c":"e","x":74,"y":72.9,"b":56},{"r":904,"c":"e","x":90.8,"y":72.8,"b":55.8},{"r":904,"c":"e","x":91.1,"y":71.9,"b":55.7},{"r":904,"c":"e","x":96,"y":71.6,"b":55.7},
{"r":905,"c":"c","x":60,"y":70.1,"b":64.6},{"r":905,"c":"c","x":62,"y":70.6,"b":63.6},{"r":905,"c":"c","x":65.4,"y":71.8,"b":63},{"r":905,"c":"c","x":71,"y":71.9,"b":62},{"r":905,"c":"c","x":78.5,"y":71.8,"b":60.2},{"r":905,"c":"c","x":85.2,"y":71.6,"b":58.2},{"r":905,"c":"c","x":92.6,"y":70.1,"b":57.5},{"r":905,"c":"c","x":96,"y":69.7,"b":57.4},
{"r":906,"c":"b","x":60,"y":68.8,"b":66.8},{"r":906,"c":"b","x":62,"y":69.7,"b":65.7},{"r":906,"c":"b","x":64,"y":70.6,"b":65.2},{"r":906,"c":"b","x":68.8,"y":71.3,"b":64},{"r":906,"c":"b","x":76,"y":71.4,"b":61},{"r":906,"c":"b","x":83.7,"y":71.1,"b":59.2},{"r":906,"c":"b","x":88.9,"y":70,"b":58.1},{"r":906,"c":"b","x":96,"y":68.6,"b":57.9},
{"r":907,"c":"a","x":64.5,"y":69,"b":68.2},{"r":907,"c":"a","x":70,"y":70,"b":68.7},{"r":907,"c":"a","x":80,"y":70,"b":68.4},{"r":907,"c":"a","x":86.6,"y":69.4,"b":68.4},
{"r":909,"c":"a","x":89,"y":60.5,"b":59.2},{"r":909,"c":"a","x":96,"y":61,"b":58.5},
{"r":908,"c":"c","x":60,"y":61.6,"b":59.7},{"r":908,"c":"c","x":64,"y":60.8,"b":58.8},{"r":908,"c":"c","x":68.4,"y":59.1,"b":59},
{"r":910,"c":"g","x":62.3,"y":65,"b":62.9},{"r":910,"c":"g","x":67,"y":64,"b":61.5},{"r":910,"c":"g","x":71,"y":62.5,"b":60.5},{"r":910,"c":"g","x":77,"y":62,"b":60.8},{"r":910,"c":"g","x":85,"y":62,"b":60.5},
{"r":911,"c":"i","x":62.8,"y":65.9,"b":63.8},{"r":911,"c":"i","x":67,"y":64.5,"b":62.6},{"r":911,"c":"i","x":72,"y":62.8,"b":61.3},{"r":911,"c":"i","x":77,"y":61.4,"b":61.1},
{"r":912,"c":"L","x":63.6,"y":66.4,"b":65.7},{"r":912,"c":"L","x":64.5,"y":67,"b":64.8},{"r":912,"c":"L","x":68,"y":68.3,"b":62.8},{"r":912,"c":"L","x":72,"y":68.3,"b":62},{"r":912,"c":"L","x":77.7,"y":68.4,"b":61},{"r":912,"c":"L","x":85,"y":68.4,"b":60.5},{"r":912,"c":"L","x":85.9,"y":68.4,"b":59.5},{"r":912,"c":"L","x":89.6,"y":67.8,"b":59.5},{"r":912,"c":"L","x":90.4,"y":67.6,"b":61},{"r":912,"c":"L","x":96,"y":65,"b":61},
{"r":913,"c":"m","x":63.6,"y":66,"b":65.8},{"r":913,"c":"m","x":65,"y":67.2,"b":64.8},{"r":913,"c":"m","x":67.7,"y":68.3,"b":63.2},{"r":913,"c":"m","x":72.5,"y":68.3,"b":62},{"r":913,"c":"m","x":77.7,"y":68.4,"b":60.9},{"r":913,"c":"m","x":84.8,"y":68.4,"b":60.8},{"r":913,"c":"m","x":85.9,"y":68.3,"b":59.8},{"r":913,"c":"m","x":87.4,"y":67.6,"b":59.8},{"r":913,"c":"m","x":89.3,"y":67.3,"b":59.8},{"r":913,"c":"m","x":90.4,"y":67.3,"b":61},{"r":913,"c":"m","x":91.5,"y":66.5,"b":61},{"r":913,"c":"m","x":93.4,"y":66.5,"b":61},{"r":913,"c":"m","x":95,"y":65.5,"b":61},{"r":913,"c":"m","x":96,"y":65,"b":61}
],
"contours":[
{"k":1,"x":60,"y":73.6},{"k":1,"x":68,"y":74.35},{"k":1,"x":76,"y":74.6},{"k":1,"x":86,"y":73.9},{"k":1,"x":96,"y":72.4},
{"k":2,"x":60,"y":73.1},{"k":2,"x":68,"y":73.9},{"k":2,"x":76,"y":74.15},{"k":2,"x":86,"y":73.43},{"k":2,"x":96,"y":71.9},
{"k":3,"x":60,"y":72.55},{"k":3,"x":68,"y":73.45},{"k":3,"x":76,"y":73.7},{"k":3,"x":86,"y":72.95},{"k":3,"x":96,"y":71.4},
{"k":4,"x":60,"y":72.05},{"k":4,"x":68,"y":73},{"k":4,"x":76,"y":73.25},{"k":4,"x":86,"y":72.5},{"k":4,"x":96,"y":70.9},
{"k":5,"x":60,"y":71.5},{"k":5,"x":68,"y":72.55},{"k":5,"x":76,"y":72.8},{"k":5,"x":86,"y":72},{"k":5,"x":96,"y":70.4},
{"k":6,"x":60,"y":70.95},{"k":6,"x":68,"y":72.1},{"k":6,"x":76,"y":72.35},{"k":6,"x":86,"y":71.5},{"k":6,"x":96,"y":69.9},
{"k":7,"x":60,"y":70.4},{"k":7,"x":68,"y":71.65},{"k":7,"x":76,"y":71.9},{"k":7,"x":86,"y":71.05},{"k":7,"x":96,"y":69.4},
{"k":8,"x":60,"y":69.9},{"k":8,"x":68,"y":71.2},{"k":8,"x":76,"y":71.45},{"k":8,"x":86,"y":70.55},{"k":8,"x":96,"y":68.9},
{"k":9,"x":60,"y":69.4},{"k":9,"x":68,"y":70.75},{"k":9,"x":76,"y":71},{"k":9,"x":86,"y":70.1},{"k":9,"x":96,"y":68.4},
{"k":10,"x":60,"y":68.9},{"k":10,"x":68,"y":70.3},{"k":10,"x":76,"y":70.55},{"k":10,"x":86,"y":69.6},{"k":10,"x":96,"y":67.9},
{"k":11,"x":60,"y":68.4},{"k":11,"x":68,"y":69.85},{"k":11,"x":76,"y":70.1},{"k":11,"x":86,"y":69.1},{"k":11,"x":96,"y":67.4},
{"k":12,"x":60,"y":67.9},{"k":12,"x":68,"y":69.35},{"k":12,"x":76,"y":69.6},{"k":12,"x":86,"y":68.55},{"k":12,"x":96,"y":66.8},
{"k":13,"x":60,"y":67.4},{"k":13,"x":68,"y":68.85},{"k":13,"x":76,"y":69.1},{"k":13,"x":86,"y":68},{"k":13,"x":96,"y":66.2},
{"k":21,"x":60,"y":56.5},{"k":21,"x":70,"y":54.5},
{"k":22,"x":60,"y":57},{"k":22,"x":70,"y":55},
{"k":23,"x":60,"y":57.5},{"k":23,"x":70,"y":55.5},
{"k":24,"x":60,"y":58},{"k":24,"x":70,"y":56},{"k":24,"x":80,"y":54.7},
{"k":25,"x":60,"y":58.5},{"k":25,"x":70,"y":56.5},{"k":25,"x":80,"y":55.2},
{"k":26,"x":60,"y":59},{"k":26,"x":70,"y":57},{"k":26,"x":80,"y":55.7},{"k":26,"x":90,"y":55.1},{"k":26,"x":96,"y":55.2},
{"k":27,"x":60,"y":59.5},{"k":27,"x":70,"y":57.5},{"k":27,"x":80,"y":56.2},{"k":27,"x":90,"y":55.6},{"k":27,"x":96,"y":55.7},
{"k":28,"x":60,"y":60},{"k":28,"x":70,"y":58},{"k":28,"x":80,"y":56.7},{"k":28,"x":90,"y":56.1},{"k":28,"x":96,"y":56.2},
{"k":29,"x":60,"y":60.5},{"k":29,"x":70,"y":58.5},{"k":29,"x":80,"y":57.2},{"k":29,"x":90,"y":56.6},{"k":29,"x":96,"y":56.7},
{"k":30,"x":60,"y":61},{"k":30,"x":70,"y":59},{"k":30,"x":80,"y":57.7},{"k":30,"x":90,"y":57.1},{"k":30,"x":96,"y":57.2},
{"k":31,"x":60,"y":61.5},{"k":31,"x":70,"y":59.5},{"k":31,"x":80,"y":58.2},{"k":31,"x":90,"y":57.6},{"k":31,"x":96,"y":57.7},
{"k":32,"x":60,"y":62},{"k":32,"x":70,"y":60},{"k":32,"x":80,"y":58.7},{"k":32,"x":90,"y":58.1},{"k":32,"x":96,"y":58.2},
{"k":33,"x":60,"y":62.5},{"k":33,"x":70,"y":60.5},{"k":33,"x":80,"y":59.2},{"k":33,"x":90,"y":58.6},{"k":33,"x":96,"y":58.7},
{"k":34,"x":60,"y":63},{"k":34,"x":70,"y":61},{"k":34,"x":80,"y":59.7},{"k":34,"x":90,"y":59.1},{"k":34,"x":96,"y":59.2},
{"k":41,"x":71.7,"y":65},{"k":41,"x":74,"y":66.3},{"k":41,"x":77.5,"y":66.7},{"k":41,"x":82,"y":66.2},{"k":41,"x":87,"y":65},{"k":41,"x":90.3,"y":63.5},
{"k":42,"x":71.7,"y":65},{"k":42,"x":75,"y":63.5},{"k":42,"x":80,"y":62.4},{"k":42,"x":85,"y":62},{"k":42,"x":88.5,"y":62.4},{"k":42,"x":90.3,"y":63.5},
{"k":43,"x":67.5,"y":65.5},{"k":43,"x":71,"y":67.2},{"k":43,"x":76,"y":67.6},{"k":43,"x":82,"y":67.2},{"k":43,"x":88,"y":65.9},{"k":43,"x":94,"y":63.2},
{"k":44,"x":67.5,"y":65.5},{"k":44,"x":71,"y":63.6},{"k":44,"x":77,"y":62},{"k":44,"x":87,"y":61.1},{"k":44,"x":91,"y":61.5},{"k":44,"x":94,"y":63.2},
{"k":45,"x":63,"y":66},{"k":45,"x":67,"y":68},{"k":45,"x":75,"y":68.6},{"k":45,"x":84,"y":68},{"k":45,"x":92,"y":66.3},{"k":45,"x":96,"y":65},
{"k":46,"x":63,"y":66},{"k":46,"x":66,"y":64},{"k":46,"x":72,"y":62.3},{"k":46,"x":80,"y":60.7},{"k":46,"x":88,"y":60},{"k":46,"x":96,"y":60.7}
],
"lines":[
{"p":1,"k":"b1","o":1,"x":63.2,"y":78.5},{"p":1,"k":"b1","o":2,"x":61.2,"y":76.7},{"p":1,"k":"b1","o":3,"x":61.2,"y":74.5},{"p":1,"k":"b1","o":4,"x":60.3,"y":73.7},
{"p":1,"k":"b2","o":1,"x":60.3,"y":68.6},{"p":1,"k":"b2","o":2,"x":61,"y":68.1},{"p":1,"k":"b2","o":3,"x":62.3,"y":63.9},{"p":1,"k":"b2","o":4,"x":62.3,"y":61.1},{"p":1,"k":"b2","o":5,"x":63.4,"y":59.8},{"p":1,"k":"b2","o":6,"x":63.2,"y":59},{"p":1,"k":"b2","o":7,"x":64.4,"y":58},{"p":1,"k":"b2","o":8,"x":64.4,"y":56},
{"p":1,"k":"b3","o":1,"x":96,"y":58.8},{"p":1,"k":"b3","o":2,"x":93,"y":56},
{"p":2,"k":"b1","o":1,"x":60.4,"y":63.5},{"p":2,"k":"b1","o":2,"x":60.8,"y":63.2},{"p":2,"k":"b1","o":3,"x":62,"y":60.3},{"p":2,"k":"b1","o":4,"x":61.8,"y":58.3},{"p":2,"k":"b1","o":5,"x":62.9,"y":57.1},{"p":2,"k":"b1","o":6,"x":62.9,"y":56},
{"p":2,"k":"b2","o":1,"x":95.9,"y":57.7},{"p":2,"k":"b2","o":2,"x":94.7,"y":56},
{"p":3,"k":"b1","o":1,"x":61,"y":78.5},{"p":3,"k":"b1","o":2,"x":60.1,"y":77.8},
{"p":3,"k":"b2","o":1,"x":60.1,"y":62.3},{"p":3,"k":"b2","o":2,"x":61.1,"y":61.3},{"p":3,"k":"b2","o":3,"x":61.1,"y":59},{"p":3,"k":"b2","o":4,"x":62.2,"y":58},{"p":3,"k":"b2","o":5,"x":62.2,"y":56},
{"p":3,"k":"b3","o":1,"x":96,"y":57.9},{"p":3,"k":"b3","o":2,"x":94,"y":56}
],
"arrows":[
{"p":1,"o":1,"x":84.5,"y":65.1},{"p":1,"o":2,"x":96,"y":67.8},
{"p":2,"o":1,"x":85.5,"y":64.5},{"p":2,"o":2,"x":95.9,"y":66.9},
{"p":3,"o":1,"x":84.8,"y":65.2},{"p":3,"o":2,"x":94.85,"y":67.4},
{"p":4,"o":1,"x":84.6,"y":65.1},{"p":4,"o":2,"x":96,"y":67.5},
{"p":5,"o":1,"x":82.7,"y":64.4},{"p":5,"o":2,"x":95.9,"y":67.4},
{"p":6,"o":1,"x":83.9,"y":65.2},{"p":6,"o":2,"x":94.85,"y":67.7}
],
"heads":[
{"p":1,"x":84.5,"y":65.1,"b":65.1},{"p":1,"x":86.9,"y":66.6,"b":65},{"p":1,"x":87.6,"y":64.9,"b":64.9},
{"p":2,"x":85.5,"y":64.5,"b":64.5},{"p":2,"x":88,"y":66.1,"b":64.4},{"p":2,"x":88.8,"y":64.3,"b":64.3},
{"p":3,"x":84.8,"y":65.2,"b":65.2},{"p":3,"x":87.5,"y":66.9,"b":65.1},{"p":3,"x":88.3,"y":65,"b":65},
{"p":4,"x":84.6,"y":65.1,"b":65.1},{"p":4,"x":87.2,"y":66.6,"b":64.9},{"p":4,"x":88,"y":64.8,"b":64.8},
{"p":5,"x":82.7,"y":64.4,"b":64.4},{"p":5,"x":85.2,"y":66.1,"b":64.3},{"p":5,"x":86,"y":64.2,"b":64.2},
{"p":6,"x":83.9,"y":65.2,"b":65.2},{"p":6,"x":86.5,"y":66.8,"b":65},{"p":6,"x":87,"y":64.9,"b":64.9}
],
"dots":[{"p":1,"x":82.7,"y":64.8,"n":"2,665 km","lx":95.1,"ly":77.06},{"p":2,"x":82.5,"y":64.8,"n":"2,695 km","lx":95,"ly":77.06},{"p":3,"x":81.8,"y":64.8,"n":"2,655 km","lx":94.75,"ly":77.06},{"p":4,"x":82.5,"y":64.1,"n":"2,845 km","lx":95.1,"ly":76.75},{"p":5,"x":82.5,"y":64.1,"n":"2,805 km","lx":95,"ly":76.75},{"p":6,"x":82.2,"y":64.2,"n":"2,835 km","lx":94.75,"ly":76.75},{"p":7,"x":82.4,"y":64.2,"n":"2,888 km","lx":95.1,"ly":76.5},{"p":8,"x":82.3,"y":64.2,"n":"2,888 km","lx":95,"ly":76.5},{"p":9,"x":81.9,"y":64.1,"n":"2,888 km","lx":94.75,"ly":76.5}]
},
"vconcat":[{"columns":3,"spacing":{"row":46,"column":56},"bounds":"flush","resolve":{"scale":{"fill":"shared"}},"concat":[
{"title":"Cold mantle","width":319,"height":295,"encoding":{"x":{"field":"x","type":"quantitative","scale":{"domain":[60.33,95.97]},"axis":{"values":[60.34,70,80,90],"title":null,"labelOffset":{"expr":"datum.value<61?-3:-1"}}},"y":{"field":"y","type":"quantitative","scale":{"domain":[56,78.5]},"axis":{"values":[60,65,70,75],"title":"Latitude (°N)"}}},"layer":[
{"data":{"name":"regions"},"transform":[{"filter":"datum.r>=100&&datum.r<200"}],"mark":{"type":"area","clip":true,"line":false},"encoding":{"y2":{"field":"b"},"detail":{"field":"r"},"fill":{"field":"c","type":"nominal","scale":{"domain":["I","J","L","M","a","b","c","d","e","f","g","h","i","j","k","l","m"],"range":["#ee9433","#ea7a2e","#d8302e","#a92b28","#3f88cc","#4aa5de","#86c8dc","#cfdfc4","#e4e59c","#efe468","#f2de2c","#f6c41e","#ef9833","#ea752d","#e2562e","#dc2c2c","#a92b28"]}},"stroke":{"condition":{"test":"datum.c<'a'","value":"#b89a3a"},"value":"#6b6f55"},"strokeWidth":{"condition":{"test":"datum.c<'a'","value":2.5},"value":0.8}}},
{"data":{"name":"contours"},"mark":{"type":"line","clip":true,"interpolate":"monotone","stroke":"#33332a","strokeWidth":1,"strokeOpacity":0.85},"encoding":{"detail":{"field":"k"}}},
{"data":{"name":"lines"},"transform":[{"filter":"datum.p==1"}],"mark":{"type":"line","clip":true,"stroke":"#333322","strokeWidth":1.6},"encoding":{"detail":{"field":"k"},"order":{"field":"o"}}},
{"data":{"name":"arrows"},"transform":[{"filter":"datum.p==1"}],"mark":{"type":"line","clip":true,"stroke":"#0a0a0a","strokeWidth":3.5},"encoding":{"order":{"field":"o"}}},
{"data":{"name":"heads"},"transform":[{"filter":"datum.p==1"}],"mark":{"type":"area","clip":true,"fill":"#0a0a0a"},"encoding":{"y2":{"field":"b"}}},
{"data":{"name":"dots"},"transform":[{"filter":"datum.p==1"}],"mark":{"type":"point","filled":true,"fill":"#000","size":110,"opacity":1}},
{"data":{"name":"dots"},"transform":[{"filter":"datum.p==1"}],"mark":{"type":"text","align":"right"},"encoding":{"x":{"field":"lx","type":"quantitative"},"y":{"field":"ly","type":"quantitative"},"text":{"field":"n"}}}
]},
{"title":"Warm mantle","width":319,"height":295,"encoding":{"x":{"field":"x","type":"quantitative","scale":{"domain":[60.2,95.85]},"axis":{"values":[60.21,70,80,90],"title":null,"labelOffset":{"expr":"datum.value<61?-2:-1"}}},"y":{"field":"y","type":"quantitative","scale":{"domain":[56,78.5]},"axis":{"values":[60,65,70,75],"title":null}}},"layer":[
{"data":{"name":"regions"},"transform":[{"filter":"datum.r>=200&&datum.r<300"}],"mark":{"type":"area","clip":true},"encoding":{"y2":{"field":"b"},"detail":{"field":"r"},"fill":{"field":"c","type":"nominal"},"stroke":{"condition":{"test":"datum.c<'a'","value":"#b89a3a"},"value":"#6b6f55"},"strokeWidth":{"condition":{"test":"datum.c<'a'","value":2.5},"value":0.8}}},
{"data":{"name":"contours"},"mark":{"type":"line","clip":true,"interpolate":"monotone","stroke":"#33332a","strokeWidth":1,"strokeOpacity":0.85},"encoding":{"detail":{"field":"k"}}},
{"data":{"name":"lines"},"transform":[{"filter":"datum.p==2"}],"mark":{"type":"line","clip":true,"stroke":"#333322","strokeWidth":1.6},"encoding":{"detail":{"field":"k"},"order":{"field":"o"}}},
{"data":{"name":"arrows"},"transform":[{"filter":"datum.p==2"}],"mark":{"type":"line","clip":true,"stroke":"#0a0a0a","strokeWidth":3.5},"encoding":{"order":{"field":"o"}}},
{"data":{"name":"heads"},"transform":[{"filter":"datum.p==2"}],"mark":{"type":"area","clip":true,"fill":"#0a0a0a"},"encoding":{"y2":{"field":"b"}}},
{"data":{"name":"dots"},"transform":[{"filter":"datum.p==2"}],"mark":{"type":"point","filled":true,"fill":"#000","size":110,"opacity":1}},
{"data":{"name":"dots"},"transform":[{"filter":"datum.p==2"}],"mark":{"type":"text","align":"right"},"encoding":{"x":{"field":"lx","type":"quantitative"},"y":{"field":"ly","type":"quantitative"},"text":{"field":"n"}}}
]},
{"title":{"text":"Observations 8 April 1999","dx":4},"width":311,"height":295,"encoding":{"x":{"field":"x","type":"quantitative","scale":{"domain":[60.1,94.85]},"axis":{"values":[60.11,70,80,90],"title":null,"labelOffset":{"expr":"datum.value<61?-1:-1"}}},"y":{"field":"y","type":"quantitative","scale":{"domain":[56,78.5]},"axis":{"values":[60,65,70,75],"title":null}}},"layer":[
{"data":{"name":"regions"},"transform":[{"filter":"datum.r>=300&&datum.r<400"}],"mark":{"type":"area","clip":true},"encoding":{"y2":{"field":"b"},"detail":{"field":"r"},"fill":{"field":"c","type":"nominal"},"stroke":{"condition":{"test":"datum.c<'a'","value":"#b89a3a"},"value":"#6b6f55"},"strokeWidth":{"condition":{"test":"datum.c<'a'","value":2.5},"value":0.8}}},
{"data":{"name":"contours"},"mark":{"type":"line","clip":true,"interpolate":"monotone","stroke":"#33332a","strokeWidth":1,"strokeOpacity":0.85},"encoding":{"detail":{"field":"k"}}},
{"data":{"name":"lines"},"transform":[{"filter":"datum.p==3"}],"mark":{"type":"line","clip":true,"stroke":"#333322","strokeWidth":1.6},"encoding":{"detail":{"field":"k"},"order":{"field":"o"}}},
{"data":{"name":"arrows"},"transform":[{"filter":"datum.p==3"}],"mark":{"type":"line","clip":true,"stroke":"#0a0a0a","strokeWidth":3.5},"encoding":{"order":{"field":"o"}}},
{"data":{"name":"heads"},"transform":[{"filter":"datum.p==3"}],"mark":{"type":"area","clip":true,"fill":"#0a0a0a"},"encoding":{"y2":{"field":"b"}}},
{"data":{"name":"dots"},"transform":[{"filter":"datum.p==3"}],"mark":{"type":"point","filled":true,"fill":"#000","size":110,"opacity":1}},
{"data":{"name":"dots"},"transform":[{"filter":"datum.p==3"}],"mark":{"type":"text","align":"right"},"encoding":{"x":{"field":"lx","type":"quantitative"},"y":{"field":"ly","type":"quantitative"},"text":{"field":"n"}}}
]},
{"width":319,"height":295,"encoding":{"x":{"field":"x","type":"quantitative","scale":{"domain":[60.33,95.97]},"axis":{"values":[60.34,70,80,90],"title":null,"labelOffset":{"expr":"datum.value<61?-3:-1"}}},"y":{"field":"y","type":"quantitative","scale":{"domain":[55.7,78.2]},"axis":{"values":[60,65,70,75],"title":"Latitude (°N)"}}},"layer":[
{"data":{"name":"regions"},"transform":[{"filter":"datum.r>=400&&datum.r<500"}],"mark":{"type":"area","clip":true},"encoding":{"y2":{"field":"b"},"detail":{"field":"r"},"fill":{"field":"c","type":"nominal"},"stroke":{"condition":{"test":"datum.c<'a'","value":"#b89a3a"},"value":"#6b6f55"},"strokeWidth":{"condition":{"test":"datum.c<'a'","value":2.5},"value":0.8}}},
{"data":{"name":"contours"},"mark":{"type":"line","clip":true,"interpolate":"monotone","stroke":"#33332a","strokeWidth":1,"strokeOpacity":0.85},"encoding":{"detail":{"field":"k"}}},
{"data":{"name":"arrows"},"transform":[{"filter":"datum.p==4"}],"mark":{"type":"line","clip":true,"stroke":"#0a0a0a","strokeWidth":3.5},"encoding":{"order":{"field":"o"}}},
{"data":{"name":"heads"},"transform":[{"filter":"datum.p==4"}],"mark":{"type":"area","clip":true,"fill":"#0a0a0a"},"encoding":{"y2":{"field":"b"}}},
{"data":{"name":"dots"},"transform":[{"filter":"datum.p==4"}],"mark":{"type":"point","filled":true,"fill":"#000","size":110,"opacity":1}},
{"data":{"name":"dots"},"transform":[{"filter":"datum.p==4"}],"mark":{"type":"text","align":"right"},"encoding":{"x":{"field":"lx","type":"quantitative"},"y":{"field":"ly","type":"quantitative"},"text":{"field":"n"}}}
]},
{"width":319,"height":295,"encoding":{"x":{"field":"x","type":"quantitative","scale":{"domain":[60.2,95.85]},"axis":{"values":[60.21,70,80,90],"title":null,"labelOffset":{"expr":"datum.value<61?-2:-1"}}},"y":{"field":"y","type":"quantitative","scale":{"domain":[55.7,78.2]},"axis":{"values":[60,65,70,75],"title":null}}},"layer":[
{"data":{"name":"regions"},"transform":[{"filter":"datum.r>=500&&datum.r<600"}],"mark":{"type":"area","clip":true},"encoding":{"y2":{"field":"b"},"detail":{"field":"r"},"fill":{"field":"c","type":"nominal"},"stroke":{"condition":{"test":"datum.c<'a'","value":"#b89a3a"},"value":"#6b6f55"},"strokeWidth":{"condition":{"test":"datum.c<'a'","value":2.5},"value":0.8}}},
{"data":{"name":"contours"},"mark":{"type":"line","clip":true,"interpolate":"monotone","stroke":"#33332a","strokeWidth":1,"strokeOpacity":0.85},"encoding":{"detail":{"field":"k"}}},
{"data":{"name":"arrows"},"transform":[{"filter":"datum.p==5"}],"mark":{"type":"line","clip":true,"stroke":"#0a0a0a","strokeWidth":3.5},"encoding":{"order":{"field":"o"}}},
{"data":{"name":"heads"},"transform":[{"filter":"datum.p==5"}],"mark":{"type":"area","clip":true,"fill":"#0a0a0a"},"encoding":{"y2":{"field":"b"}}},
{"data":{"name":"dots"},"transform":[{"filter":"datum.p==5"}],"mark":{"type":"point","filled":true,"fill":"#000","size":110,"opacity":1}},
{"data":{"name":"dots"},"transform":[{"filter":"datum.p==5"}],"mark":{"type":"text","align":"right"},"encoding":{"x":{"field":"lx","type":"quantitative"},"y":{"field":"ly","type":"quantitative"},"text":{"field":"n"}}}
]},
{"width":311,"height":295,"encoding":{"x":{"field":"x","type":"quantitative","scale":{"domain":[60.1,94.85]},"axis":{"values":[60.11,70,80,90],"title":null,"labelOffset":{"expr":"datum.value<61?-1:-1"}}},"y":{"field":"y","type":"quantitative","scale":{"domain":[55.7,78.2]},"axis":{"values":[60,65,70,75],"title":null}}},"layer":[
{"data":{"name":"regions"},"transform":[{"filter":"datum.r>=600&&datum.r<700"}],"mark":{"type":"area","clip":true},"encoding":{"y2":{"field":"b"},"detail":{"field":"r"},"fill":{"field":"c","type":"nominal"},"stroke":{"condition":{"test":"datum.c<'a'","value":"#b89a3a"},"value":"#6b6f55"},"strokeWidth":{"condition":{"test":"datum.c<'a'","value":2.5},"value":0.8}}},
{"data":{"name":"contours"},"mark":{"type":"line","clip":true,"interpolate":"monotone","stroke":"#33332a","strokeWidth":1,"strokeOpacity":0.85},"encoding":{"detail":{"field":"k"}}},
{"data":{"name":"arrows"},"transform":[{"filter":"datum.p==6"}],"mark":{"type":"line","clip":true,"stroke":"#0a0a0a","strokeWidth":3.5},"encoding":{"order":{"field":"o"}}},
{"data":{"name":"heads"},"transform":[{"filter":"datum.p==6"}],"mark":{"type":"area","clip":true,"fill":"#0a0a0a"},"encoding":{"y2":{"field":"b"}}},
{"data":{"name":"dots"},"transform":[{"filter":"datum.p==6"}],"mark":{"type":"point","filled":true,"fill":"#000","size":110,"opacity":1}},
{"data":{"name":"dots"},"transform":[{"filter":"datum.p==6"}],"mark":{"type":"text","align":"right"},"encoding":{"x":{"field":"lx","type":"quantitative"},"y":{"field":"ly","type":"quantitative"},"text":{"field":"n"}}}
]},
{"width":319,"height":295,"encoding":{"x":{"field":"x","type":"quantitative","scale":{"domain":[60.33,95.97]},"axis":{"values":[60.34,70,80,90],"title":"Longitude (°E)","labelOffset":{"expr":"datum.value<61?-3:-1"}}},"y":{"field":"y","type":"quantitative","scale":{"domain":[55.5,78]},"axis":{"values":[60,65,70,75],"title":"Latitude (°N)"}}},"layer":[
{"data":{"name":"regions"},"transform":[{"filter":"datum.r>=700&&datum.r<800"}],"mark":{"type":"area","clip":true},"encoding":{"y2":{"field":"b"},"detail":{"field":"r"},"fill":{"field":"c","type":"nominal"},"stroke":{"condition":{"test":"datum.c<'a'","value":"#b89a3a"},"value":"#6b6f55"},"strokeWidth":{"condition":{"test":"datum.c<'a'","value":2.5},"value":0.8}}},
{"data":{"name":"contours"},"mark":{"type":"line","clip":true,"interpolate":"monotone","stroke":"#33332a","strokeWidth":1,"strokeOpacity":0.85},"encoding":{"detail":{"field":"k"}}},
{"data":{"name":"dots"},"transform":[{"filter":"datum.p==7"}],"mark":{"type":"point","filled":true,"fill":"#000","size":110,"opacity":1}},
{"data":{"name":"dots"},"transform":[{"filter":"datum.p==7"}],"mark":{"type":"text","align":"right"},"encoding":{"x":{"field":"lx","type":"quantitative"},"y":{"field":"ly","type":"quantitative"},"text":{"field":"n"}}}
]},
{"width":319,"height":295,"encoding":{"x":{"field":"x","type":"quantitative","scale":{"domain":[60.2,95.85]},"axis":{"values":[60.21,70,80,90],"title":"Longitude (°E)","labelOffset":{"expr":"datum.value<61?-2:-1"}}},"y":{"field":"y","type":"quantitative","scale":{"domain":[55.5,78]},"axis":{"values":[60,65,70,75],"title":null}}},"layer":[
{"data":{"name":"regions"},"transform":[{"filter":"datum.r>=800&&datum.r<900"}],"mark":{"type":"area","clip":true},"encoding":{"y2":{"field":"b"},"detail":{"field":"r"},"fill":{"field":"c","type":"nominal"},"stroke":{"condition":{"test":"datum.c<'a'","value":"#b89a3a"},"value":"#6b6f55"},"strokeWidth":{"condition":{"test":"datum.c<'a'","value":2.5},"value":0.8}}},
{"data":{"name":"contours"},"mark":{"type":"line","clip":true,"interpolate":"monotone","stroke":"#33332a","strokeWidth":1,"strokeOpacity":0.85},"encoding":{"detail":{"field":"k"}}},
{"data":{"name":"dots"},"transform":[{"filter":"datum.p==8"}],"mark":{"type":"point","filled":true,"fill":"#000","size":110,"opacity":1}},
{"data":{"name":"dots"},"transform":[{"filter":"datum.p==8"}],"mark":{"type":"text","align":"right"},"encoding":{"x":{"field":"lx","type":"quantitative"},"y":{"field":"ly","type":"quantitative"},"text":{"field":"n"}}}
]},
{"width":311,"height":295,"encoding":{"x":{"field":"x","type":"quantitative","scale":{"domain":[60.1,94.85]},"axis":{"values":[60.11,70,80,90],"title":"Longitude (°E)","titleX":159.5,"labelOffset":{"expr":"datum.value<61?-1:-1"}}},"y":{"field":"y","type":"quantitative","scale":{"domain":[55.5,78]},"axis":{"values":[60,65,70,75],"title":null}}},"layer":[
{"data":{"name":"regions"},"transform":[{"filter":"datum.r>=900&&datum.r<1000"}],"mark":{"type":"area","clip":true},"encoding":{"y2":{"field":"b"},"detail":{"field":"r"},"fill":{"field":"c","type":"nominal"},"stroke":{"condition":{"test":"datum.c<'a'","value":"#b89a3a"},"value":"#6b6f55"},"strokeWidth":{"condition":{"test":"datum.c<'a'","value":2.5},"value":0.8}}},
{"data":{"name":"contours"},"mark":{"type":"line","clip":true,"interpolate":"monotone","stroke":"#33332a","strokeWidth":1,"strokeOpacity":0.85},"encoding":{"detail":{"field":"k"}}},
{"data":{"name":"dots"},"transform":[{"filter":"datum.p==9"}],"mark":{"type":"point","filled":true,"fill":"#000","size":110,"opacity":1}},
{"data":{"name":"dots"},"transform":[{"filter":"datum.p==9"}],"mark":{"type":"text","align":"right"},"encoding":{"x":{"field":"lx","type":"quantitative"},"y":{"field":"ly","type":"quantitative"},"text":{"field":"n"}}}
]}
]},
{"width":1061,"height":29,"data":{"values":[
{"a":-16,"e":-15.4},{"a":-15.5,"e":-14.9},{"a":-15,"e":-14.4},{"a":-14.5,"e":-13.9},{"a":-14,"e":-13.4},{"a":-13.5,"e":-12.9},{"a":-13,"e":-12.4},{"a":-12.5,"e":-11.9},{"a":-12,"e":-11.4},{"a":-11.5,"e":-10.9},{"a":-11,"e":-10.4},{"a":-10.5,"e":-9.9},{"a":-10,"e":-9.4},{"a":-9.5,"e":-8.9},{"a":-9,"e":-8.4},{"a":-8.5,"e":-7.9},{"a":-8,"e":-7.4},{"a":-7.5,"e":-6.9},{"a":-7,"e":-6.4},{"a":-6.5,"e":-5.9},{"a":-6,"e":-5.4},{"a":-5.5,"e":-4.9},{"a":-5,"e":-4.4},{"a":-4.5,"e":-3.9},{"a":-4,"e":-3.4},{"a":-3.5,"e":-2.9},{"a":-3,"e":-2.4},{"a":-2.5,"e":-1.9},{"a":-2,"e":-1.4},{"a":-1.5,"e":-0.9},{"a":-1,"e":-0.4},{"a":-0.5,"e":0.1},{"a":0,"e":0.6},{"a":0.5,"e":1.1},{"a":1,"e":1.6},{"a":1.5,"e":2.1},{"a":2,"e":2.6},{"a":2.5,"e":3.1},{"a":3,"e":3.6},{"a":3.5,"e":4.1},{"a":4,"e":4.6},{"a":4.5,"e":5.1},{"a":5,"e":5.6},{"a":5.5,"e":6.1},{"a":6,"e":6.6},{"a":6.5,"e":7.1},{"a":7,"e":7.6},{"a":7.5,"e":8.1},{"a":8,"e":8.6},{"a":8.5,"e":9.1},{"a":9,"e":9.6},{"a":9.5,"e":10}]},
"encoding":{"x":{"field":"a","type":"quantitative","scale":{"domain":[-53.4,46.7]},"axis":{"values":[0],"title":"Amplitude","labelPadding":4,"titlePadding":9,"titleX":534,"labelExpr":"datum.label"}}},
"layer":[
{"mark":{"type":"rect","stroke":null},"encoding":{"x2":{"field":"e"},"fill":{"field":"a","type":"quantitative","scale":{"domain":[-16,-14,-12,-10,-8,-6,-4,-2,-1,0,1,3,4,5,6,8,10],"range":["#4d96d2","#45a0dc","#42a6de","#6ab5da","#84c5d5","#a8d2cc","#cdddb8","#e9e678","#f1e33c","#f4d91e","#f7c81a","#f19c36","#ec7d3a","#e04a3a","#dc3a38","#d62f30","#a83028"]}}}},
{"data":{"values":[{"a":-16,"e":10}]},"mark":{"type":"rect","fill":null,"stroke":"#111","strokeWidth":1.5},"encoding":{"x2":{"field":"e"}}},
{"data":{"values":[{"a":0}]},"mark":{"type":"rule","stroke":"#555","strokeWidth":1},"encoding":{}},
{"data":{"values":[{"a":-16.8,"l":"Negative"}]},"mark":{"type":"text","align":"right"},"encoding":{"text":{"field":"l"}}},
{"data":{"values":[{"a":10.8,"l":"Positive"}]},"mark":{"type":"text","align":"left"},"encoding":{"text":{"field":"l"}}}
]}
],"spacing":33}
